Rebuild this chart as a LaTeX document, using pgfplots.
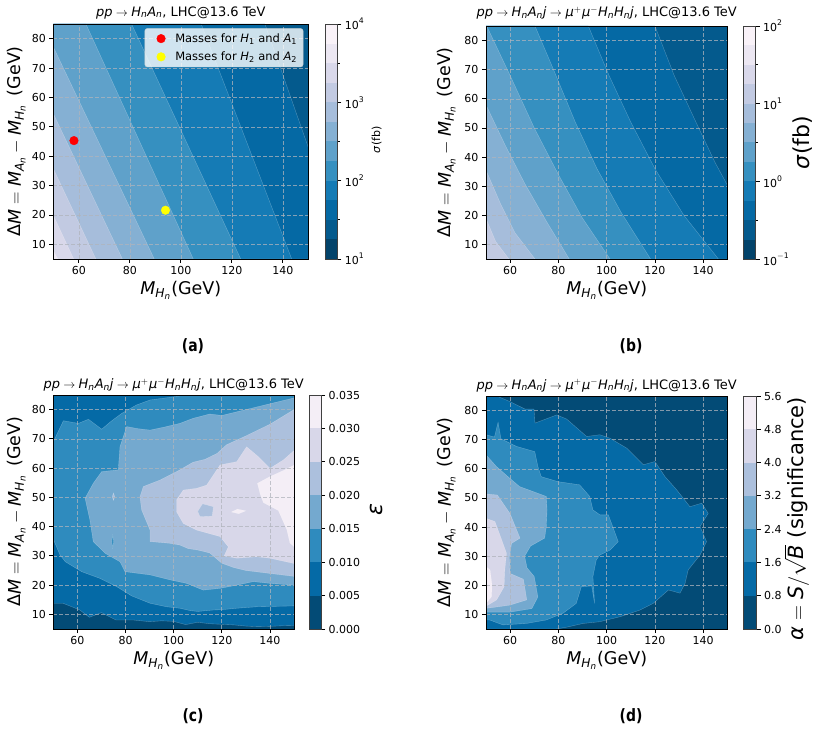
\documentclass[border=0pt]{standalone}
\usepackage{mathspec}
\setmainfont{DejaVu Sans}
\setmathsfont(Digits,Latin,Greek){DejaVu Sans}
\setmathrm{DejaVu Sans}
\usepackage{graphicx}
\usepackage{pgfplots}
\pgfplotsset{compat=1.18}

% PuBu_r, 12 levels (log-scale cross sections)
\definecolor{A0}{RGB}{3,67,106}
\definecolor{A1}{RGB}{4,90,141}
\definecolor{A2}{RGB}{5,105,164}
\definecolor{A3}{RGB}{21,123,181}
\definecolor{A4}{RGB}{54,144,192}
\definecolor{A5}{RGB}{95,161,202}
\definecolor{A6}{RGB}{133,176,211}
\definecolor{A7}{RGB}{166,189,219}
\definecolor{A8}{RGB}{194,202,226}
\definecolor{A9}{RGB}{217,216,234}
\definecolor{A10}{RGB}{236,231,242}
\definecolor{A11}{RGB}{249,242,248}
% PuBu_r, 7 levels (efficiency, significance)
\definecolor{B0}{RGB}{3,75,118}
\definecolor{B1}{RGB}{5,106,166}
\definecolor{B2}{RGB}{47,139,190}
\definecolor{B3}{RGB}{116,169,207}
\definecolor{B4}{RGB}{172,192,221}
\definecolor{B5}{RGB}{216,215,233}
\definecolor{B6}{RGB}{244,238,246}
\definecolor{gridc}{RGB}{176,180,188}

\newcommand\fTick{\fontsize{11}{13}\selectfont}
\newcommand\fLab{\fontsize{17.5}{20}\selectfont}
\newcommand\fTitle{\fontsize{13}{15}\selectfont}
\newcommand\fLeg{\fontsize{11.5}{13}\selectfont}
\newcommand\fBig{\fontsize{22}{25}\selectfont}
\newcommand\fBigd{\fontsize{21}{24}\selectfont}
\newcommand\fSub{\fontsize{17}{20}\selectfont\bfseries}

\pgfplotsset{
  panel/.style={anchor=south west, scale only axis, axis on top,
    xmin=50, xmax=150, ymin=5, ymax=85,
    xtick={60,80,...,140}, ytick={10,20,...,80},
    tick align=outside, tick pos=left, major tick length=4pt,
    tick style={black, line width=0.8pt},
    axis line style={line width=0.9pt},
    tick label style={font=\fTick},
    grid=major,
    major grid style={dash pattern=on 4pt off 2pt, line width=0.6pt, draw=gridc, opacity=0.75}},
  cbar/.style={anchor=south west, scale only axis, axis on top,
    xmin=0, xmax=1, ymin=0, xtick=\empty,
    tick align=outside, ytick pos=right, yticklabel pos=right,
    major tick length=4pt, minor tick length=2.5pt,
    tick style={black, line width=0.8pt},
    axis line style={line width=0.8pt, black!75},
    tick label style={font=\fTick}},
  area/.style={forget plot, draw=white, draw opacity=0.3, line width=0.35pt},
  cell/.style={forget plot, draw=none},
}

\begin{document}
\begin{tikzpicture}
\path[use as bounding box] (0pt,0pt) rectangle (821pt,755pt);

% ---------------- (a) sigma(pp -> H A) ----------------
\begin{axis}[panel, at={(53.3pt,496pt)}, width=255pt, height=235pt,
  legend style={at={(1,1)}, anchor=north east, xshift=-5pt, yshift=-4.3pt,
    fill=white, fill opacity=0.8, text opacity=1, draw=black!20,
    rounded corners=2.5pt, font=\fLeg, inner xsep=4pt, inner ysep=3pt, row sep=4pt},
  legend image code/.code={\path (0pt,-4pt) (24pt,4pt); \draw[#1, fill opacity=1, draw opacity=1] plot coordinates {(12pt,0pt)};},
  legend cell align=left]
\addplot[area, fill=A1] coordinates {(50,5)(150,5)(150,85)(50,85)} -- cycle;
\addplot[area, fill=A2] coordinates {(50,5)(50,85)(133,85)(150,43)(150,5)} -- cycle;
\addplot[area, fill=A3] coordinates {(50,5)(50,85)(108,85)(143.5,5)} -- cycle;
\addplot[area, fill=A4] coordinates {(50,5)(50,85)(80.7,85)(123.5,5)} -- cycle;
\addplot[area, fill=A5] coordinates {(50,5)(50,85)(62.8,85)(104.9,5)} -- cycle;
\addplot[area, fill=A6] coordinates {(50,5)(50,77.2)(89.6,5)} -- cycle;
\addplot[area, fill=A7] coordinates {(50,5)(50,54.5)(77.1,5)} -- cycle;
\addplot[area, fill=A8] coordinates {(50,5)(50,35.8)(66.7,5)} -- cycle;
\addplot[area, fill=A9] coordinates {(50,5)(50,19.9)(58,5)} -- cycle;
\addplot[area, fill=A10] coordinates {(50,5)(50,7.8)(51.8,5)} -- cycle;
\addplot[only marks, mark=*, mark size=4.3pt, color=red] coordinates {(58.1,45.3)};
\addlegendentry{Masses for $H_1$ and $A_1$}
\addplot[only marks, mark=*, mark size=4.3pt, color={rgb,255:red,255;green,255;blue,0}] coordinates {(94.0,21.6)};
\addlegendentry{Masses for $H_2$ and $A_2$}
\end{axis}
\begin{axis}[cbar, at={(325pt,496pt)}, width=12.3pt, height=235pt, ymax=12,
  ytick={0,4,8,12}, yticklabels={$10^{1}$,$10^{2}$,$10^{3}$,$10^{4}$}, minor ytick={2,6,10}]
\addplot[cell, fill=A0] coordinates {(0,0)(1,0)(1,1)(0,1)} -- cycle;
\addplot[cell, fill=A1] coordinates {(0,1)(1,1)(1,2)(0,2)} -- cycle;
\addplot[cell, fill=A2] coordinates {(0,2)(1,2)(1,3)(0,3)} -- cycle;
\addplot[cell, fill=A3] coordinates {(0,3)(1,3)(1,4)(0,4)} -- cycle;
\addplot[cell, fill=A4] coordinates {(0,4)(1,4)(1,5)(0,5)} -- cycle;
\addplot[cell, fill=A5] coordinates {(0,5)(1,5)(1,6)(0,6)} -- cycle;
\addplot[cell, fill=A6] coordinates {(0,6)(1,6)(1,7)(0,7)} -- cycle;
\addplot[cell, fill=A7] coordinates {(0,7)(1,7)(1,8)(0,8)} -- cycle;
\addplot[cell, fill=A8] coordinates {(0,8)(1,8)(1,9)(0,9)} -- cycle;
\addplot[cell, fill=A9] coordinates {(0,9)(1,9)(1,10)(0,10)} -- cycle;
\addplot[cell, fill=A10] coordinates {(0,10)(1,10)(1,11)(0,11)} -- cycle;
\addplot[cell, fill=A11] coordinates {(0,11)(1,11)(1,12)(0,12)} -- cycle;
\end{axis}

% ---------------- (b) sigma(pp -> H A j -> mu mu H H j) ----------------
\begin{axis}[panel, at={(486pt,496pt)}, width=241.3pt, height=233pt]
\addplot[area, fill=A1] coordinates {(50,5)(150,5)(150,85)(50,85)} -- cycle;
\addplot[area, fill=A2] coordinates {(50,5)(50,85)(120,85)(128,68)(137,52)(145,38)(150,30.4)(150,5)} -- cycle;
\addplot[area, fill=A3] coordinates {(50,5)(50,85)(92.4,85)(101,68)(110,52)(120,36)(132,20)(146.3,5)} -- cycle;
\addplot[area, fill=A4] coordinates {(50,5)(50,85)(70.3,85)(78,70)(87,52)(96,36)(106,21)(118.2,5)} -- cycle;
\addplot[area, fill=A5] coordinates {(50,5)(50,85)(50.3,85)(60,68)(70,50)(80,34)(90,19)(101.4,5)} -- cycle;
\addplot[area, fill=A6] coordinates {(50,5)(50,57.9)(58,44)(66,31)(75,18)(84.5,5)} -- cycle;
\addplot[area, fill=A7] coordinates {(50,5)(50,35.5)(56,24)(62,14)(70.3,5)} -- cycle;
\addplot[area, fill=A8] coordinates {(50,5)(50,18.9)(54,11)(59.5,5)} -- cycle;
\end{axis}
\begin{axis}[cbar, at={(743.3pt,496pt)}, width=12.4pt, height=233pt, ymax=12,
  ytick={0,4,8,12}, yticklabels={$10^{-1}$,$10^{0}$,$10^{1}$,$10^{2}$}, minor ytick={2,6,10}]
\addplot[cell, fill=A0] coordinates {(0,0)(1,0)(1,1)(0,1)} -- cycle;
\addplot[cell, fill=A1] coordinates {(0,1)(1,1)(1,2)(0,2)} -- cycle;
\addplot[cell, fill=A2] coordinates {(0,2)(1,2)(1,3)(0,3)} -- cycle;
\addplot[cell, fill=A3] coordinates {(0,3)(1,3)(1,4)(0,4)} -- cycle;
\addplot[cell, fill=A4] coordinates {(0,4)(1,4)(1,5)(0,5)} -- cycle;
\addplot[cell, fill=A5] coordinates {(0,5)(1,5)(1,6)(0,6)} -- cycle;
\addplot[cell, fill=A6] coordinates {(0,6)(1,6)(1,7)(0,7)} -- cycle;
\addplot[cell, fill=A7] coordinates {(0,7)(1,7)(1,8)(0,8)} -- cycle;
\addplot[cell, fill=A8] coordinates {(0,8)(1,8)(1,9)(0,9)} -- cycle;
\addplot[cell, fill=A9] coordinates {(0,9)(1,9)(1,10)(0,10)} -- cycle;
\addplot[cell, fill=A10] coordinates {(0,10)(1,10)(1,11)(0,11)} -- cycle;
\addplot[cell, fill=A11] coordinates {(0,11)(1,11)(1,12)(0,12)} -- cycle;
\end{axis}

% ---------------- (c) efficiency ----------------
\begin{axis}[panel, at={(53.3pt,126pt)}, width=240.7pt, height=234pt]
\addplot[area, fill=B0] coordinates {(50,5)(150,5)(150,85)(50,85)} -- cycle;
\addplot[area, fill=B1] coordinates {(50,13.8)(54,13.8)(58,12.5)(61,11.5)(65,9)(70,10.6)(76,8.1)(83,8.1)(90,7.5)(95,7.8)(100,7.6)(105,6.5)(110,7.3)(115,6.8)(120,6.6)(125,6.4)(130,6.0)(135,5.8)(140,5.9)(145,6.1)(150,6.2)(150,85)(50,85)} -- cycle;
\addplot[area, fill=B2] coordinates {(50,35.7)(50,69.0)(54.2,76.2)(60.4,75.3)(64.6,76.7)(70.1,73.3)(74,76)(78.4,78.7)(84.6,81.6)(90.2,83.3)(98.5,84.2)(102.6,84.7)(104,85)(150,85)(150,12.9)(145,12.8)(140,12.7)(134.5,12.6)(126.2,12.1)(120,11.6)(116.5,11.5)(110,11.0)(106.8,11.3)(102.6,12.1)(97.1,12.6)(90.2,13.8)(82.6,16.3)(76.3,19.5)(69.4,22.3)(61.8,24.6)(55,28)(52.8,30.3)} -- cycle;
\addplot[area, fill=B3] coordinates {(63.2,49.7)(66.6,54.8)(70.1,58.8)(77.0,59.4)(77.7,67.3)(80.5,74.2)(85,73.5)(90.2,73.0)(96,74)(102.6,75.3)(108,77)(115,78.5)(120,78)(125,79)(130,80)(135,81)(140,82)(145,83)(150,84)(150,20.0)(140,20.6)(133.1,21.2)(126.2,20.0)(119.3,18.9)(112.3,18.3)(105.4,20.6)(98.5,21.8)(90.2,23.5)(79.8,24.6)(77.7,28.0)(71.5,30.9)(66.6,34.9)(65.2,42.3)} -- cycle;
\addplot[area, fill=B4] coordinates {(86.0,50.2)(87.4,53.7)(94.3,55.9)(102.6,59.4)(108,62)(113,63)(118,65)(122,68)(126,69.5)(130,71)(135,73)(140,75)(145,77.5)(150,80)(150,23)(145,23.5)(140,24)(135,24.5)(130,25)(125,26)(120,27.5)(115,31)(110,32)(106,32.5)(102.6,33.7)(98.5,34.3)(90.2,34.9)(90.2,38.8)(86.7,45.7)} -- cycle;
\addplot[area, fill=B5] coordinates {(101.2,49.1)(104.0,52.5)(109.6,53.1)(113.7,54.2)(119.3,61.1)(126.2,62.2)(130.3,67.3)(135.2,63.9)(140.0,59.9)(145.6,62.8)(150,66)(150,27.4)(140.0,29.2)(134.5,29.7)(126.2,29.2)(121,30)(122.7,33.1)(119.3,36.6)(109.6,38.8)(104.0,41.1)(101.2,45.1)} -- cycle;
\addplot[area, fill=B4] coordinates {(110,45.2)(112,47.8)(116.5,46.8)(116,43.6)(111,43.4)} -- cycle;
\addplot[area, fill=B6] coordinates {(134.8,54.8)(140,57.1)(145.6,59.2)(150,61)(150,33.2)(148.3,34.4)(147,39)(143.5,45.5)(137.3,48.2)(136,51)} -- cycle;
\addplot[area, fill=B6] coordinates {(124,45)(126.5,46)(130,45.4)(127,44.4)} -- cycle;
\addplot[area, fill=B4] coordinates {(74.5,50.2)(75,51.5)(75.5,50.2)(75,49)} -- cycle;
\addplot[area, fill=B2] coordinates {(74.3,34.9)(74.7,37)(75.1,34.9)(74.7,32.8)} -- cycle;
\end{axis}
\begin{axis}[cbar, at={(309.3pt,126pt)}, width=11.7pt, height=234pt, ymax=7,
  ytick={0,1,...,7}, yticklabels={0.000,0.005,0.010,0.015,0.020,0.025,0.030,0.035}]
\addplot[cell, fill=B0] coordinates {(0,0)(1,0)(1,1)(0,1)} -- cycle;
\addplot[cell, fill=B1] coordinates {(0,1)(1,1)(1,2)(0,2)} -- cycle;
\addplot[cell, fill=B2] coordinates {(0,2)(1,2)(1,3)(0,3)} -- cycle;
\addplot[cell, fill=B3] coordinates {(0,3)(1,3)(1,4)(0,4)} -- cycle;
\addplot[cell, fill=B4] coordinates {(0,4)(1,4)(1,5)(0,5)} -- cycle;
\addplot[cell, fill=B5] coordinates {(0,5)(1,5)(1,6)(0,6)} -- cycle;
\addplot[cell, fill=B6] coordinates {(0,6)(1,6)(1,7)(0,7)} -- cycle;
\end{axis}

% ---------------- (d) significance ----------------
\begin{axis}[panel, at={(486pt,126pt)}, width=241.3pt, height=233pt]
\addplot[area, fill=B0] coordinates {(50,5)(150,5)(150,85)(50,85)} -- cycle;
\addplot[area, fill=B1] coordinates {(50,5)(50,85)(54.4,85)(59.9,83.1)(66.2,80.5)(69.9,80.5)(70.3,75.7)(79.3,78.5)(83.4,77.1)(91.7,71.1)(97.2,71.7)(101.4,70.5)(108.3,67.1)(115.2,61.4)(120.0,62.5)(124.2,57.3)(129.0,52.8)(134.5,47.0)(139.4,48.2)(142.1,44.7)(138.7,40.2)(141.4,35.0)(138.7,30.4)(133.8,25.3)(132.5,20.7)(130.4,17.3)(125.6,18.4)(119.3,13.8)(113.8,11.5)(105.5,9.2)(100,8.1)(97.2,7.5)(90.2,6.9)(83.3,5.6)(79,5)} -- cycle;
\addplot[area, fill=B2] coordinates {(50,8.1)(50,71.7)(53.5,70.9)(55,76)(56.2,70.3)(57.0,70.0)(62.6,67.7)(70.2,65.9)(71.5,60.8)(72.9,57.3)(79.8,55.6)(88.8,54.5)(93.0,50.5)(94.3,45.9)(97.2,44.2)(100.7,44.2)(104.8,35.0)(101.4,32.1)(97.2,30.4)(95.7,28.7)(94.3,23.0)(95.0,13.8)(93.8,19.8)(89.5,19.5)(87.4,13.8)(81.9,10.4)(75.0,8.1)(66.7,6.9)(57.0,6.4)(51.5,8.1)} -- cycle;
\addplot[area, fill=B3] coordinates {(50,10.8)(50,64.8)(54.3,60.8)(59.8,56.8)(63.9,53.9)(69.5,52.2)(75.0,50.5)(75.3,45.9)(75.0,40.2)(74.3,36.2)(68.5,33.5)(66,30)(67,26)(70,23)(71.5,16)(69,12)(60,10.8)(54.3,10.8)} -- cycle;
\addplot[area, fill=B4] coordinates {(50,12.1)(50,51.4)(54.7,51.0)(59.9,44.7)(64.1,36.2)(60.6,34.4)(59.7,29.9)(59.9,24.1)(65.5,22.1)(66.9,15.0)(59.9,13.2)(53,12.4)} -- cycle;
\addplot[area, fill=B5] coordinates {(50,12.9)(50,43.0)(53.7,41.9)(56.5,35.6)(58.5,31)(57.8,25.3)(57.5,19.5)(54.4,15.0)(51,13.3)} -- cycle;
\addplot[area, fill=B6] coordinates {(50,13.8)(50,26.4)(51.7,25.3)(52.5,20)(52.3,16.1)} -- cycle;
\end{axis}
\begin{axis}[cbar, at={(743.3pt,126pt)}, width=13.3pt, height=233pt, ymax=7,
  ytick={0,1,...,7}, yticklabels={0.0,0.8,1.6,2.4,3.2,4.0,4.8,5.6}]
\addplot[cell, fill=B0] coordinates {(0,0)(1,0)(1,1)(0,1)} -- cycle;
\addplot[cell, fill=B1] coordinates {(0,1)(1,1)(1,2)(0,2)} -- cycle;
\addplot[cell, fill=B2] coordinates {(0,2)(1,2)(1,3)(0,3)} -- cycle;
\addplot[cell, fill=B3] coordinates {(0,3)(1,3)(1,4)(0,4)} -- cycle;
\addplot[cell, fill=B4] coordinates {(0,4)(1,4)(1,5)(0,5)} -- cycle;
\addplot[cell, fill=B5] coordinates {(0,5)(1,5)(1,6)(0,6)} -- cycle;
\addplot[cell, fill=B6] coordinates {(0,6)(1,6)(1,7)(0,7)} -- cycle;
\end{axis}

% ---------------- titles and labels ----------------
\node[font=\fTitle] at (180.8pt,742.3pt) {$pp\rightarrow H_nA_n$, LHC@13.6 TeV};
\node[font=\fTitle] at (606.7pt,741.7pt) {$pp\rightarrow H_nA_nj\rightarrow\mu^+\mu^-H_nH_nj$, LHC@13.6 TeV};
\node[font=\fTitle] at (173.7pt,370pt) {$pp\rightarrow H_nA_nj\rightarrow\mu^+\mu^-H_nH_nj$, LHC@13.6 TeV};
\node[font=\fTitle] at (606.7pt,369.5pt) {$pp\rightarrow H_nA_nj\rightarrow\mu^+\mu^-H_nH_nj$, LHC@13.6 TeV};

\node[font=\fLab] at (180.8pt,465pt) {$M_{H_n}$(GeV)};
\node[font=\fLab] at (606.7pt,465pt) {$M_{H_n}$(GeV)};
\node[font=\fLab] at (173.7pt,95pt) {$M_{H_n}$(GeV)};
\node[font=\fLab] at (606.7pt,95pt) {$M_{H_n}$(GeV)};

\node[font=\fLab, rotate=90] at (16.7pt,613.5pt) {$\Delta M = M_{A_n} - M_{H_n}$\enspace(GeV)};
\node[font=\fLab, rotate=90] at (446.7pt,612.5pt) {$\Delta M = M_{A_n} - M_{H_n}$\enspace(GeV)};
\node[font=\fLab, rotate=90] at (16.7pt,243pt) {$\Delta M = M_{A_n} - M_{H_n}$\enspace(GeV)};
\node[font=\fLab, rotate=90] at (446.7pt,242.5pt) {$\Delta M = M_{A_n} - M_{H_n}$\enspace(GeV)};

\node[font=\fTick, rotate=90] at (376.7pt,615pt) {$\sigma$(fb)};
\node[font=\fBig, rotate=90] at (803pt,612pt) {$\sigma$(fb)};
\node[font=\fBig, rotate=90] at (376.7pt,245pt) {$\epsilon$};
\node[font=\fBigd, rotate=90] at (796.7pt,236pt) {$\alpha = S/\sqrt{B}$ (significance)};

\node[font=\fSub] at (193pt,409pt) {\scalebox{0.82}[1]{(a)}};
\node[font=\fSub] at (631pt,409pt) {\scalebox{0.82}[1]{(b)}};
\node[font=\fSub] at (193pt,39pt) {\scalebox{0.82}[1]{(c)}};
\node[font=\fSub] at (631pt,39pt) {\scalebox{0.82}[1]{(d)}};
\end{tikzpicture}
\end{document}
